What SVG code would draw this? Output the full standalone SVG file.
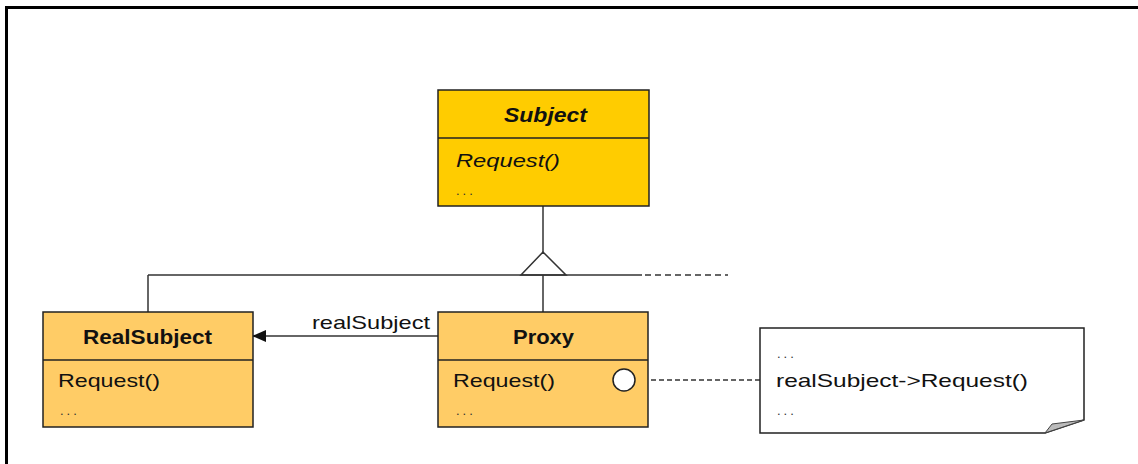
<svg xmlns="http://www.w3.org/2000/svg" width="1138" height="464" viewBox="0 0 1138 464">
<style>
.box{stroke:#222;stroke-width:1.5}
.t{font-family:"Liberation Sans",Arial,sans-serif;fill:#111}
.title{font-size:20px;font-weight:bold}
.op{font-size:19px}
.dots{font-size:13px;letter-spacing:3px;fill:#333}
.ln{stroke:#333;stroke-width:1.5;fill:none}
</style>
<defs>
<marker id="arr" markerWidth="14" markerHeight="12" refX="13" refY="6" orient="auto" markerUnits="userSpaceOnUse">
<path d="M0,0 L14,6 L0,12 Z" fill="#111"/>
</marker>
</defs>
<rect width="1138" height="464" fill="#fff"/>
<path d="M6.5,464 V7.5 H1138" fill="none" stroke="#000" stroke-width="3"/>
<g id="connectors">
<line class="ln" x1="543" y1="206" x2="543" y2="252"/>
<path class="ln" d="M543,252 L521,275 L566,275 Z" fill="#fff"/>
<line class="ln" x1="148" y1="275" x2="642" y2="275"/>
<line class="ln" x1="645" y1="275" x2="728" y2="275" stroke-dasharray="6,4"/>
<line class="ln" x1="148" y1="275" x2="148" y2="312"/>
<line class="ln" x1="543" y1="275" x2="543" y2="312"/>
<line class="ln" x1="438" y1="336" x2="253" y2="336" marker-end="url(#arr)"/>
<text class="t op" x="312" y="329" textLength="118" lengthAdjust="spacingAndGlyphs">realSubject</text>
<line class="ln" x1="635" y1="380" x2="760" y2="380" stroke-dasharray="5,3"/>
</g>
<g id="subject">
<rect class="box" x="438" y="90" width="211" height="116" fill="#FFCC00"/>
<line class="box" x1="438" y1="138" x2="649" y2="138"/>
<text class="t title" x="504" y="122" font-style="italic" textLength="83" lengthAdjust="spacingAndGlyphs">Subject</text>
<text class="t op" x="456" y="167" font-style="italic" textLength="104" lengthAdjust="spacingAndGlyphs">Request()</text>
<text class="t dots" x="456" y="195">...</text>
</g>
<g id="realsubject">
<rect class="box" x="43" y="312" width="210" height="115" fill="#FFCC66"/>
<line class="box" x1="43" y1="360" x2="253" y2="360"/>
<text class="t title" x="83" y="344" textLength="129" lengthAdjust="spacingAndGlyphs">RealSubject</text>
<text class="t op" x="58" y="387" textLength="102" lengthAdjust="spacingAndGlyphs">Request()</text>
<text class="t dots" x="60" y="415">...</text>
</g>
<g id="proxy">
<rect class="box" x="438" y="312" width="210" height="115" fill="#FFCC66"/>
<line class="box" x1="438" y1="360" x2="648" y2="360"/>
<text class="t title" x="513" y="344" textLength="61" lengthAdjust="spacingAndGlyphs">Proxy</text>
<text class="t op" x="453" y="387" textLength="102" lengthAdjust="spacingAndGlyphs">Request()</text>
<text class="t dots" x="456" y="415">...</text>
<circle cx="624" cy="380" r="11" fill="#fff" stroke="#222" stroke-width="1.5"/>
</g>
<g id="note">
<path d="M760,328 H1084 V420 L1045,433 H760 Z" fill="#fff" stroke="#222" stroke-width="1.5"/>
<path d="M1045,433 L1052,424 L1084,420 Z" fill="#bbb" stroke="#444" stroke-width="1"/>
<text class="t dots" x="777" y="358">...</text>
<text class="t op" x="776" y="387" textLength="252" lengthAdjust="spacingAndGlyphs">realSubject-&gt;Request()</text>
<text class="t dots" x="777" y="415">...</text>
</g>
</svg>
